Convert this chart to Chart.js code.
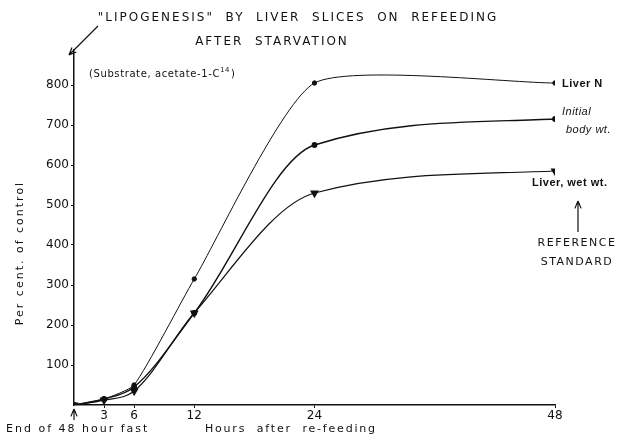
<!DOCTYPE html>
<html>
<head>
<meta charset="utf-8">
<script src="https://cdn.jsdelivr.net/npm/chart.js@4.4.1/dist/chart.umd.min.js"></script>
<style>
  html, body { margin: 0; padding: 0; background: #fff; }
  #wrap { width: 619px; height: 439px; }
</style>
</head>
<body>
<div id="wrap"><canvas id="canvasChart" width="619" height="439"></canvas></div>
<script>
// values (per cent of control)
const hours = [0, 3, 6, 12, 24, 48];
const liverN = [0, 15, 50, 315, 805, 805];
const bodyWt = [0, 15, 45, 230, 650, 715];
const liverWet = [0, 12, 35, 230, 530, 585];
const xTicks = [3, 6, 12, 24, 48];
const yTicks = [100, 200, 300, 400, 500, 600, 700, 800];

const ink = '#111';
const font = "'DejaVu Sans', sans-serif";
const narrow = "'Liberation Sans', Arial, sans-serif";

function pts(arr) {
  return hours.map((h, i) => ({ x: h, y: arr[i] }));
}

function arrow(ctx, x1, y1, x2, y2) {
  const a = Math.atan2(y2 - y1, x2 - x1);
  ctx.beginPath();
  ctx.moveTo(x1, y1);
  ctx.lineTo(x2, y2);
  ctx.moveTo(x2, y2);
  ctx.lineTo(x2 - 8 * Math.cos(a - 0.4), y2 - 8 * Math.sin(a - 0.4));
  ctx.moveTo(x2, y2);
  ctx.lineTo(x2 - 8 * Math.cos(a + 0.4), y2 - 8 * Math.sin(a + 0.4));
  ctx.stroke();
}

const notes = {
  id: 'notes',
  afterDraw(chart) {
    const ctx = chart.ctx;
    ctx.save();
    ctx.fillStyle = ink;
    ctx.strokeStyle = ink;
    ctx.lineWidth = 1.2;
    ctx.textBaseline = 'middle';

    // title
    ctx.textAlign = 'center';
    ctx.font = '12px ' + font;
    ctx.letterSpacing = '2px';
    ctx.fillText('"LIPOGENESIS"  BY  LIVER  SLICES  ON  REFEEDING', 298, 18);
    ctx.fillText('AFTER  STARVATION', 272, 42);

    // substrate note
    ctx.letterSpacing = '0.6px';
    ctx.textAlign = 'left';
    ctx.font = '10px ' + font;
    let s = '(Substrate, acetate-1-C';
    ctx.fillText(s, 89, 74);
    let w = ctx.measureText(s).width;
    ctx.font = '7px ' + font;
    ctx.fillText('14', 89 + w, 70);
    let w2 = ctx.measureText('14').width;
    ctx.font = '10px ' + font;
    ctx.fillText(')', 89 + w + w2 + 1, 74);

    arrow(ctx, 98, 26, 69, 55);

    // series labels on the right
    ctx.letterSpacing = '0.5px';
    ctx.font = 'bold 11px ' + narrow;
    ctx.fillText('Liver N', 562, 84);
    ctx.font = 'italic 11px ' + narrow;
    ctx.fillText('Initial', 562, 112);
    ctx.fillText('body wt.', 566, 130);
    ctx.font = 'bold 11px ' + narrow;
    ctx.fillText('Liver, wet wt.', 532, 183);
    arrow(ctx, 578, 232, 578, 201);
    ctx.letterSpacing = '1.5px';
    ctx.textAlign = 'center';
    ctx.font = '11px ' + font;
    ctx.fillText('REFERENCE', 577, 243);
    ctx.fillText('STANDARD', 577, 262);

    // bottom notes
    ctx.letterSpacing = '2px';
    ctx.textAlign = 'left';
    ctx.font = '11px ' + font;
    ctx.fillText('End of 48 hour fast', 6, 429);
    ctx.letterSpacing = '1.8px';
    ctx.fillText('Hours  after  re-feeding', 205, 429);
    ctx.letterSpacing = '0px';
    arrow(ctx, 74, 420, 74, 409);

    // y title
    ctx.translate(20, 253);
    ctx.rotate(-Math.PI / 2);
    ctx.textAlign = 'center';
    ctx.letterSpacing = '2px';
    ctx.font = '11px ' + font;
    ctx.fillText('Per cent. of control', 0, 0);
    ctx.restore();
  }
};

const line = {
  borderColor: ink,
  backgroundColor: ink,
  pointBorderColor: ink,
  pointBackgroundColor: ink,
  fill: false,
  showLine: true,
  cubicInterpolationMode: 'monotone'
};

new Chart(document.getElementById('canvasChart'), {
  type: 'scatter',
  data: {
    datasets: [
      Object.assign({}, line, {
        label: 'Liver N', data: pts(liverN),
        cubicInterpolationMode: 'default', tension: 0.18,
        borderWidth: 1, pointRadius: 2.2
      }),
      Object.assign({}, line, {
        label: 'Initial body wt.', data: pts(bodyWt),
        borderWidth: 1.4, pointRadius: 2.2
      }),
      Object.assign({}, line, {
        label: 'Liver, wet wt.', data: pts(liverWet),
        borderWidth: 1.2, pointRadius: 4,
        pointStyle: 'triangle', rotation: 180
      })
    ]
  },
  options: {
    responsive: false,
    animation: false,
    layout: { padding: { top: 50, right: 64, left: 0, bottom: 0 } },
    plugins: { legend: { display: false }, tooltip: { enabled: false } },
    scales: {
      x: {
        type: 'linear', min: 0, max: 48,
        afterBuildTicks: s => { s.ticks = xTicks.map(v => ({ value: v })); },
        afterFit: s => { s.height = 34; },
        border: { color: ink, width: 1.5 },
        grid: { drawOnChartArea: false, color: ink, tickLength: 3 },
        ticks: { color: ink, padding: 1, font: { family: font, size: 12 } }
      },
      y: {
        min: 0, max: 887.5,
        afterBuildTicks: s => { s.ticks = yTicks.map(v => ({ value: v })); },
        afterFit: s => { s.width = 74; },
        border: { color: ink, width: 1.5 },
        grid: { drawOnChartArea: false, color: ink, tickLength: 3 },
        ticks: { color: ink, padding: 2, font: { family: font, size: 12 } }
      }
    }
  },
  plugins: [notes]
});
</script>
</body>
</html>
